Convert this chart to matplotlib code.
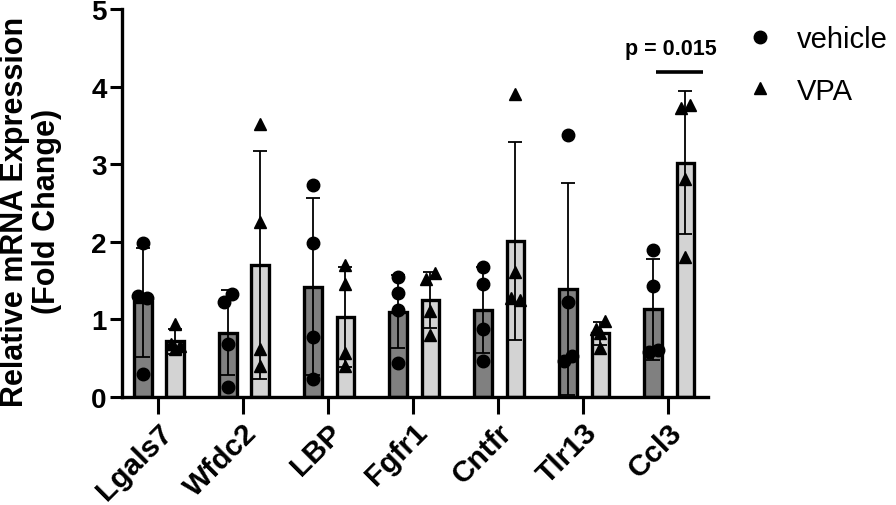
import matplotlib
matplotlib.use("Agg")
import matplotlib.pyplot as plt
import numpy as np
from matplotlib.lines import Line2D

plt.rcParams['font.family'] = ['Liberation Sans', 'DejaVu Sans']

genes = ["Lgals7", "Wfdc2", "LBP", "Fgfr1", "Cntfr", "Tlr13", "Ccl3"]

vehicle_mean = [1.22, 0.83, 1.42, 1.10, 1.12, 1.39, 1.13]
vehicle_sd = [0.70, 0.55, 1.14, 0.47, 0.55, 1.37, 0.65]
vpa_mean = [0.72, 1.70, 1.03, 1.25, 2.01, 0.82, 3.02]
vpa_sd = [0.16, 1.47, 0.64, 0.36, 1.27, 0.15, 0.92]

vehicle_pts = [
    [1.98, 1.30, 1.28, 0.30],
    [1.33, 1.22, 0.68, 0.13],
    [2.73, 1.98, 0.77, 0.23],
    [1.55, 1.34, 1.12, 0.44],
    [1.67, 1.46, 0.88, 0.47],
    [3.37, 1.23, 0.53, 0.47],
    [1.90, 1.43, 0.61, 0.58],
]
vpa_pts = [
    [0.94, 0.68, 0.66, 0.62],
    [3.52, 2.25, 0.62, 0.40],
    [1.70, 1.46, 0.57, 0.40],
    [1.60, 1.52, 1.11, 0.80],
    [3.90, 1.61, 1.28, 1.25],
    [0.98, 0.88, 0.82, 0.63],
    [3.76, 3.73, 2.81, 1.80],
]
# small horizontal jitter offsets for overlapping points (fraction of bar width)
vehicle_dx = [
    [0, -0.25, 0.25, 0],
    [0.25, -0.25, 0, 0],
    [0, 0, 0, 0],
    [0, 0, 0, 0],
    [0, 0, 0, 0],
    [0, 0, 0.25, -0.25],
    [0, 0, 0.25, -0.25],
]
vpa_dx = [
    [0, -0.25, 0.25, 0],
    [0, 0, 0, 0],
    [0, 0, 0, 0],
    [0.25, -0.25, 0, 0],
    [0, 0, -0.25, 0.25],
    [0.25, -0.25, 0, 0],
    [0.25, -0.25, 0, 0],
]

p_text = "p = 0.015"
p_gene_index = 6
p_line_y = 4.19

fig = plt.figure(figsize=(8.96, 5.06), dpi=100)
ax = fig.add_axes([122/896, 108/506, (708-122)/896, (398-10)/506])

x = np.arange(len(genes))
off_v, off_p = -0.175, 0.205
bw = 0.205
dark, light = "#808080", "#d3d3d3"

ax.bar(x + off_v, vehicle_mean, width=bw, color=dark, edgecolor="black", linewidth=2.4, zorder=2)
ax.bar(x + off_p, vpa_mean, width=bw, color=light, edgecolor="black", linewidth=2.4, zorder=2)

for i in range(len(genes)):
    for pts, dxs, off, mk in ((vehicle_pts[i], vehicle_dx[i], off_v, "o"), (vpa_pts[i], vpa_dx[i], off_p, "^")):
        xs = [x[i] + off + d * bw for d in dxs]
        ax.plot(xs, pts, linestyle="none", marker=mk, color="black", markersize=9, zorder=3, clip_on=False)

ax.errorbar(x + off_v, vehicle_mean, yerr=vehicle_sd, fmt="none", ecolor="black", elinewidth=1.3, capsize=5, capthick=1.3, zorder=4)
ax.errorbar(x + off_p, vpa_mean, yerr=vpa_sd, fmt="none", ecolor="black", elinewidth=1.3, capsize=5, capthick=1.3, zorder=4)

# significance
gx = x[p_gene_index]
ax.plot([gx - 0.14, gx + 0.41], [p_line_y, p_line_y], color="black", lw=2.6, solid_capstyle="butt", clip_on=False)
ax.text(gx + 0.035, p_line_y + 0.17, p_text, ha="center", va="bottom", fontsize=15.5, fontweight="bold")

ax.set_xlim(-0.42, len(genes) - 1 + 0.47)
ax.set_ylim(0, 5)
ax.set_yticks([0, 1, 2, 3, 4, 5])
ax.set_xticks(x)
ax.set_xticklabels(genes, rotation=45, ha="right", rotation_mode="anchor", fontsize=21.5, fontweight="bold")
for lab in ax.get_yticklabels():
    lab.set_fontsize(20)
    lab.set_fontweight("bold")
ax.tick_params(axis="y", length=9, width=2.2, pad=2)
ax.tick_params(axis="x", length=12, width=2.2, pad=3)
for s in ("top", "right"):
    ax.spines[s].set_visible(False)
for s in ("left", "bottom"):
    ax.spines[s].set_linewidth(2.4)

fig.text(0.0, 0.196, "Relative mRNA Expression\n(Fold Change)", rotation=90, ha="left", va="bottom",
         fontsize=22, fontweight="bold", multialignment="center", linespacing=1.08)

# legend
handles = [Line2D([], [], marker="o", color="black", linestyle="none", markersize=9),
           Line2D([], [], marker="^", color="black", linestyle="none", markersize=9)]
fig.legend(handles, ["vehicle", "VPA"], loc="upper left", bbox_to_anchor=(0.803, 1.0), frameon=False,
           fontsize=21, handletextpad=0.75, labelspacing=0.8, handlelength=1.0)

fig.savefig("out.png", dpi=100)
